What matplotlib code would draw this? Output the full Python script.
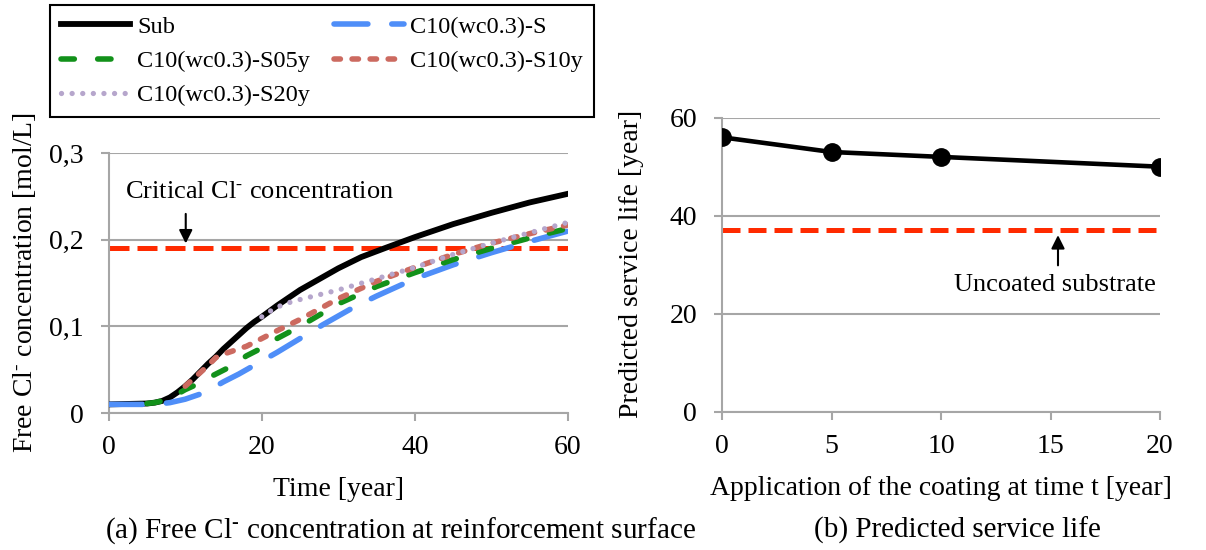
import numpy as np
import matplotlib
matplotlib.use("Agg")
import matplotlib.pyplot as plt
from matplotlib.ticker import FuncFormatter

plt.rcParams['font.family'] = ['Liberation Serif', 'DejaVu Serif']
plt.rcParams['mathtext.fontset'] = 'custom'
plt.rcParams['mathtext.rm'] = 'Liberation Serif'
plt.rcParams['mathtext.it'] = 'Liberation Serif'

# (a) free chloride at reinforcement surface [mol/L] vs time [year]
t_sub = [0, 5, 6, 7, 8, 9, 10, 11, 12, 13, 14, 15, 16, 17, 18, 19, 20, 22, 25, 28, 30, 33, 36, 40, 45, 50, 55, 60]
c_sub = [0.010, 0.011, 0.012, 0.014, 0.018, 0.024, 0.031, 0.039, 0.048, 0.057, 0.065, 0.074, 0.082, 0.090,
         0.098, 0.105, 0.111, 0.124, 0.142, 0.157, 0.167, 0.180, 0.190, 0.203, 0.218, 0.231, 0.243, 0.253]

t_s = [0, 5, 6, 7, 8, 10, 12, 14, 15, 17, 19, 20, 22, 25, 28, 32, 35, 40, 45, 50, 55, 60]
c_s = [0.010, 0.010, 0.010, 0.011, 0.012, 0.016, 0.022, 0.031, 0.036, 0.045, 0.055, 0.060, 0.070, 0.086,
       0.102, 0.122, 0.135, 0.155, 0.171, 0.185, 0.198, 0.210]

t_s05 = [5, 6, 7, 8, 9, 10, 11, 12, 14, 16, 18, 20, 22, 25, 30, 35, 40, 45, 50, 55, 60]
c_s05 = [0.011, 0.012, 0.014, 0.017, 0.022, 0.027, 0.031, 0.036, 0.045, 0.054, 0.066, 0.075, 0.086, 0.100,
         0.126, 0.146, 0.162, 0.177, 0.190, 0.202, 0.213]

t_s10 = [10, 11, 12, 13, 14, 15, 16, 17, 18, 20, 22, 25, 30, 35, 40, 45, 50, 55, 60]
c_s10 = [0.031, 0.039, 0.047, 0.055, 0.064, 0.068, 0.071, 0.074, 0.077, 0.086, 0.095, 0.108, 0.132, 0.152,
         0.168, 0.183, 0.196, 0.207, 0.217]

t_s20 = [20, 21, 22, 23, 25, 30, 35, 40, 45, 50, 55, 60]
c_s20 = [0.111, 0.117, 0.122, 0.126, 0.131, 0.142, 0.155, 0.168, 0.183, 0.196, 0.208, 0.220]

critical_cl = 0.19

# (b) predicted service life
app_time = [0, 5, 10, 20]
service_life = [56, 53, 52, 50]
uncoated_life = 37

grid_c = '#A6A6A6'
crit_c = '#FF2A00'
sup = '$^{\\text{-}}$'

fig = plt.figure(figsize=(12.06, 5.5), dpi=100)
ax1 = fig.add_axes([0.0901, 0.249, 0.3808, 0.4727])
ax2 = fig.add_axes([0.5987, 0.2515, 0.3632, 0.5345])

ax1.plot([0, 60], [critical_cl, critical_cl], color=crit_c, lw=3.6, dashes=(4.0, 1.6), zorder=2)
l_sub, = ax1.plot(t_sub, c_sub, color='black', lw=4.2, label='Sub', zorder=3)
l_s, = ax1.plot(t_s, c_s, color='#4F8EF8', lw=4, dashes=(6.1, 4.3), dash_capstyle='round',
                label='C10(wc0.3)-S', zorder=4)
l_s05, = ax1.plot(t_s05, c_s05, color='#12911A', lw=4, dashes=(2.4, 4.2), dash_capstyle='round',
                  label='C10(wc0.3)-S05y', zorder=5)
l_s10, = ax1.plot(t_s10, c_s10, color='#CC6A60', lw=4, dashes=(1.15, 2.1), dash_capstyle='round',
                  label='C10(wc0.3)-S10y', zorder=6)
l_s20, = ax1.plot(t_s20, c_s20, color='#B6A6CC', lw=3.8, dashes=(0.01, 2.0), dash_capstyle='round',
                  label='C10(wc0.3)-S20y', zorder=7)

ax1.set_xlim(0, 60)
ax1.set_ylim(0, 0.3)
ax1.set_xticks([0, 20, 40, 60])
ax1.set_yticks([0, 0.1, 0.2, 0.3])
ax1.yaxis.set_major_formatter(FuncFormatter(lambda v, p: '0' if v == 0 else f'{v:.1f}'.replace('.', ',')))
ax1.annotate('', xy=(10.07, 0.1925), xytext=(10.07, 0.233),
             arrowprops=dict(arrowstyle='-|>', mutation_scale=20, lw=1.5, color='black'))
ax1.text(2.07, 0.2548, 'Critical Cl' + sup + ' concentration', fontsize=19, va='center', ha='left')
ax1.set_xlabel('Time [year]', fontsize=20, labelpad=12)

ax2.plot([0, 20], [uncoated_life, uncoated_life], color=crit_c, lw=3.6, dashes=(3.6, 1.6), zorder=2)
ax2.plot(app_time, service_life, color='black', lw=3.3, marker='o', markersize=12.5, zorder=3)
ax2.set_xlim(0, 20)
ax2.set_ylim(0, 60)
ax2.set_xticks([0, 5, 10, 15, 20])
ax2.set_yticks([0, 20, 40, 60])
ax2.annotate('', xy=(15.34, 36.6), xytext=(15.34, 29.3),
             arrowprops=dict(arrowstyle='-|>', mutation_scale=20, lw=1.5, color='black'))
ax2.text(15.2, 25.9, 'Uncoated substrate', fontsize=19, va='center', ha='center')
ax2.set_xlabel('Application of the coating at time t [year]', fontsize=20, labelpad=12)

for ax in (ax1, ax2):
    ax.set_facecolor('none')
    ax.grid(axis='y', color=grid_c, lw=1.5)
    ax.set_axisbelow(True)
    for s in ('top', 'right'):
        ax.spines[s].set_visible(False)
    for s in ('left', 'bottom'):
        ax.spines[s].set_color(grid_c)
        ax.spines[s].set_linewidth(1.5)
    ax.tick_params(axis='both', labelsize=20, color=grid_c, width=1.5, length=6, direction='out')
    ax.tick_params(axis='x', pad=10)
    ax.tick_params(axis='y', pad=12)
    ax.margins(0)

# y labels placed in figure pixels
fig.text(25 / 1206, 1 - 283 / 550, 'Free Cl' + sup + ' concentration [mol/L]', fontsize=20,
         rotation=90, ha='center', va='center')
fig.text(631 / 1206, 1 - 264 / 550, 'Predicted service life [year]', fontsize=20,
         rotation=90, ha='center', va='center')

leg = fig.legend(handles=[l_sub, l_s05, l_s20, l_s, l_s10], ncol=2, loc='upper left',
                 bbox_to_anchor=(0.0415, 0.991), fontsize=17.5, frameon=True, fancybox=False,
                 edgecolor='black', framealpha=1, handlelength=2.85, handletextpad=0.28,
                 columnspacing=1.0, labelspacing=0.5, borderpad=0.45, borderaxespad=0)
leg.get_frame().set_linewidth(1.5)

fig.text(0.332, 0.036, '(a) Free Cl' + sup + ' concentration at reinforcement surface', fontsize=21,
         ha='center', va='center')
fig.text(0.7935, 0.036, '(b) Predicted service life', fontsize=21, ha='center', va='center')

fig.savefig('out.png', dpi=100)
